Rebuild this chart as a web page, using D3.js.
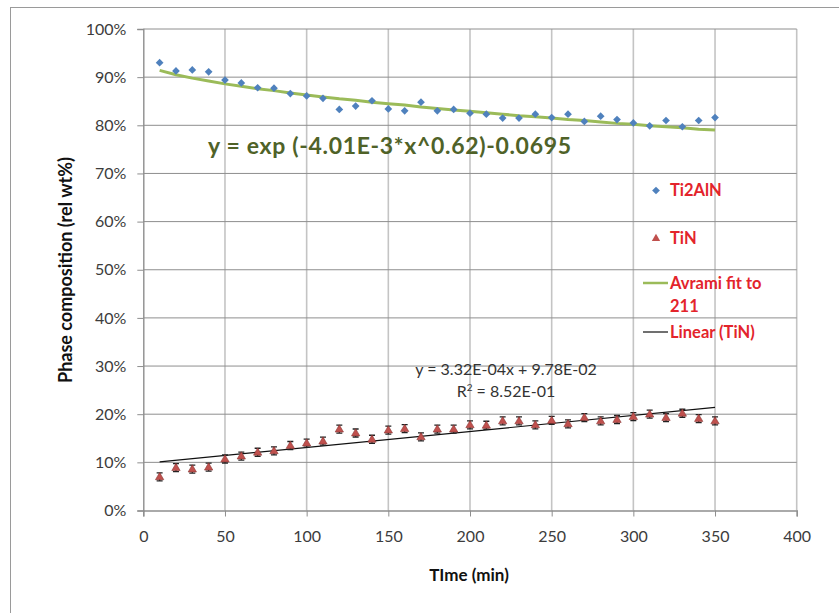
<!DOCTYPE html>
<html>
<head>
<meta charset="utf-8">
<script src="https://cdn.jsdelivr.net/npm/d3@7"></script>
<style>
  body { margin: 0; background: #fff; }
  svg { display: block; font-family: Lato, "Open Sans", sans-serif; }
</style>
</head>
<body>
<svg id="chart" width="839" height="613"></svg>
<script>
// time in minutes
const time = [10, 20, 30, 40, 50, 60, 70, 80, 90, 100, 110, 120, 130, 140, 150, 160, 170, 180,
  190, 200, 210, 220, 230, 240, 250, 260, 270, 280, 290, 300, 310, 320, 330, 340, 350];

// Ti2AlN phase composition (%)
const ti2aln = [93.0, 91.3, 91.5, 91.1, 89.4, 88.8, 87.8, 87.7, 86.6, 86.1, 85.6, 83.3, 84.0, 85.1,
  83.4, 83.0, 84.8, 83.0, 83.3, 82.5, 82.3, 81.5, 81.5, 82.3, 81.6, 82.3, 80.8, 81.9, 81.2, 80.5,
  79.9, 81.0, 79.7, 81.0, 81.6];

// TiN phase composition (%)
const tin = [7.0, 8.9, 8.6, 9.0, 10.7, 11.3, 12.1, 12.4, 13.5, 14.0, 14.4, 16.9, 16.1, 14.8,
  16.7, 17.0, 15.3, 16.9, 16.9, 17.8, 17.7, 18.6, 18.6, 17.8, 18.7, 18.0, 19.3, 18.6, 18.9, 19.5,
  20.0, 19.3, 20.2, 19.1, 18.6];

// Avrami fit values (%)
const avrami = [91.4, 90.5, 89.8, 89.2, 88.6, 88.1, 87.6, 87.2, 86.7, 86.3, 85.9, 85.5, 85.2, 84.8,
  84.5, 84.2, 83.8, 83.5, 83.2, 82.9, 82.6, 82.3, 82.0, 81.8, 81.5, 81.2, 81.0, 80.7, 80.4, 80.2,
  79.9, 79.7, 79.5, 79.2, 79.0];

// linear trend of TiN, end points (%)
const linX = [10, 350];
const linY = [10.1, 21.4];

const xTicks = [0, 50, 100, 150, 200, 250, 300, 350, 400];
const yTicks = [0, 10, 20, 30, 40, 50, 60, 70, 80, 90, 100];

const svg = d3.select("#chart");

// outer frame
svg.append("rect")
  .attr("x", 10.5).attr("y", 7.5)
  .attr("width", 850).attr("height", 640)
  .attr("fill", "none").attr("stroke", "#9a9a9a");

const x = d3.scaleLinear().domain([0, 400]).range([143.3, 796.7]);
const y = d3.scaleLinear().domain([0, 100]).range([510.5, 29]);

// gridlines
svg.append("g").selectAll("line").data(xTicks.slice(1)).join("line")
  .attr("x1", d => x(d)).attr("x2", d => x(d))
  .attr("y1", y(100)).attr("y2", y(0))
  .attr("stroke", "#c4c4c4").attr("stroke-width", 1.6);

svg.append("g").selectAll("line").data(yTicks.slice(1)).join("line")
  .attr("x1", x(0)).attr("x2", x(400))
  .attr("y1", d => y(d)).attr("y2", d => y(d))
  .attr("stroke", "#8e8e8e").attr("stroke-width", 1);

// axes
const yAxis = svg.append("g")
  .attr("transform", "translate(" + x(0) + ",0)")
  .call(d3.axisLeft(y).tickValues(yTicks).tickSize(6).tickPadding(11)
    .tickFormat(d => d + "%"));

const xAxis = svg.append("g")
  .attr("transform", "translate(0," + y(0) + ")")
  .call(d3.axisBottom(x).tickValues(xTicks).tickSize(6).tickPadding(14));

[xAxis, yAxis].forEach(function (a) {
  a.select(".domain").attr("stroke", "#8e8e8e").attr("stroke-width", 1.4);
  a.selectAll(".tick line").attr("stroke", "#8e8e8e");
  a.selectAll(".tick text")
    .attr("fill", "#3c3c3c")
    .style("font-family", "Lato, sans-serif")
    .style("font-size", "16px");
});

// axis titles
svg.append("text")
  .attr("transform", "translate(66,270) rotate(-90)")
  .attr("text-anchor", "middle")
  .attr("dy", "0.35em")
  .style("font-size", "18px").style("font-weight", "bold")
  .attr("fill", "#111")
  .text("Phase composition (rel wt%)");

svg.append("text")
  .attr("x", 469).attr("y", 581)
  .attr("text-anchor", "middle")
  .style("font-size", "17px").style("font-weight", "bold")
  .attr("fill", "#111")
  .text("TIme (min)");

// Avrami fit curve
const line = d3.line()
  .x(d => x(d[0]))
  .y(d => y(d[1]));

svg.append("path")
  .datum(time.map((t, i) => [t, avrami[i]]))
  .attr("fill", "none")
  .attr("stroke", "#9bbb59")
  .attr("stroke-width", 3)
  .attr("stroke-linejoin", "round")
  .attr("d", line);

// linear trend for TiN
svg.append("path")
  .datum(linX.map((t, i) => [t, linY[i]]))
  .attr("fill", "none")
  .attr("stroke", "#111")
  .attr("stroke-width", 1.2)
  .attr("d", line);

// Ti2AlN diamonds
const diamond = d3.symbol().type(d3.symbolDiamond2).size(38);
svg.append("g").selectAll("path").data(time).join("path")
  .attr("transform", (d, i) => "translate(" + x(d) + "," + y(ti2aln[i]) + ")")
  .attr("d", diamond)
  .attr("fill", "#4f81bd");

// TiN triangles with small error bars
const tri = d3.symbol().type(d3.symbolTriangle).size(30);
const tinG = svg.append("g").selectAll("g").data(time).join("g")
  .attr("transform", (d, i) => "translate(" + x(d) + "," + y(tin[i]) + ")");
tinG.append("path")
  .attr("d", "M0,-4V4M-3,-4H3M-3,4H3")
  .attr("stroke", "#222").attr("stroke-width", 1.3).attr("fill", "none");
tinG.append("path")
  .attr("d", tri)
  .attr("transform", "translate(0,0.5)")
  .attr("fill", "#c0504d")
  .attr("stroke", "#8c3836").attr("stroke-width", 0.6);

// equations
svg.append("text")
  .attr("x", 208).attr("y", 154)
  .attr("textLength", 363)
  .style("font-size", "23px").style("font-weight", "bold")
  .attr("fill", "#4f6228")
  .text("y = exp (-4.01E-3*x^0.62)-0.0695");

svg.append("text")
  .attr("x", 506).attr("y", 375)
  .attr("text-anchor", "middle")
  .style("font-size", "16px")
  .attr("fill", "#333")
  .text("y = 3.32E-04x + 9.78E-02");

const r2 = svg.append("text")
  .attr("x", 506).attr("y", 397)
  .attr("text-anchor", "middle")
  .style("font-size", "16px")
  .attr("fill", "#333");
r2.append("tspan").text("R");
r2.append("tspan").attr("dy", -6).style("font-size", "10px").text("2");
r2.append("tspan").attr("dy", 6).text(" = 8.52E-01");

// legend
const legend = svg.append("g").attr("transform", "translate(643,0)");
const legendText = function (ty, label) {
  legend.append("text")
    .attr("x", 27).attr("y", ty).attr("dy", "0.35em")
    .style("font-size", "16.5px").style("font-weight", "bold")
    .attr("fill", "#e3242b")
    .text(label);
};

legend.append("path")
  .attr("transform", "translate(13,190.5)")
  .attr("d", diamond).attr("fill", "#4f81bd");
legendText(190, "Ti2AlN");

legend.append("path")
  .attr("transform", "translate(13,238.5)")
  .attr("d", tri).attr("fill", "#c0504d");
legendText(238, "TiN");

legend.append("line")
  .attr("x1", 0).attr("x2", 25).attr("y1", 283).attr("y2", 283)
  .attr("stroke", "#9bbb59").attr("stroke-width", 2.5);
legendText(283, "Avrami fit to");
legendText(306, "211");

legend.append("line")
  .attr("x1", 0).attr("x2", 25).attr("y1", 332).attr("y2", 332)
  .attr("stroke", "#111").attr("stroke-width", 1.2);
legendText(332, "Linear (TiN)");
</script>
</body>
</html>
